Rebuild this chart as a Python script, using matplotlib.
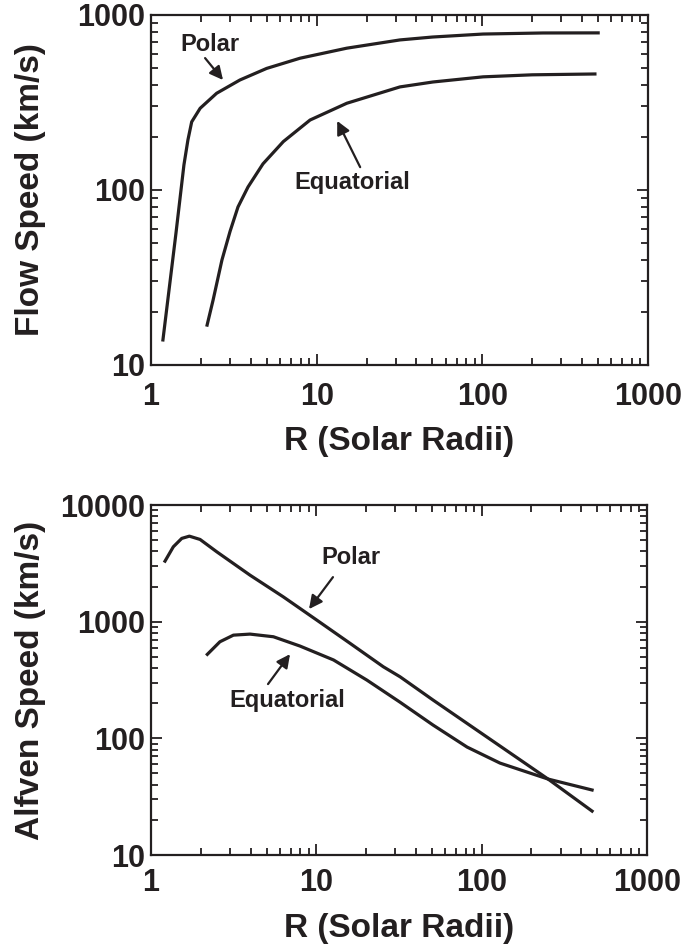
#!/usr/bin/env python3

import matplotlib
matplotlib.use('Agg')
import matplotlib.pyplot as plt
from matplotlib import ticker

# flow speed vs distance
flow_polar_r = [1.18, 1.415, 1.58, 1.67, 1.76, 1.98, 2.49, 3.44, 4.99, 7.93, 15.2, 31.8, 50, 101, 232, 500]
flow_polar_v = [13.9, 56.8, 139, 193, 245, 293, 357, 425, 495, 566, 646, 720, 748, 778, 789, 790]

flow_eq_r = [2.18, 2.37, 2.68, 3.0, 3.35, 3.85, 4.74, 6.29, 9.12, 15.2, 31.8, 50.3, 101, 200, 478]
flow_eq_v = [16.9, 23.5, 39.8, 58, 80, 104, 141, 189, 251, 313, 388, 414, 443, 455, 460]

# alfven speed vs distance
alf_polar_r = [1.215, 1.364, 1.534, 1.706, 1.98, 2.50, 3.97, 6.31, 10.05, 16.0, 25.4, 32.1, 50.8, 129, 252, 465]
alf_polar_v = [3304, 4385, 5176, 5410, 5070, 3970, 2506, 1633, 1033, 652, 411, 337, 213, 86, 44.8, 23.8]

alf_eq_r = [2.19, 2.61, 3.15, 3.97, 5.5, 7.97, 12.7, 20.2, 32.1, 50.8, 81.6, 129, 252, 465]
alf_eq_v = [525, 673, 767, 783, 743, 618, 470, 316, 204, 130, 84.2, 61.4, 44.8, 36.1]

INK = '#231f20'
FONT = 'Liberation Sans'


def style_axes(ax, ylim, ylabel, xpad, xlabelpad):
    ax.set_xscale('log')
    ax.set_yscale('log')
    ax.set_xlim(1, 1000)
    ax.set_ylim(*ylim)
    fmt = ticker.FuncFormatter(lambda v, _: f'{v:g}')
    ax.xaxis.set_major_formatter(fmt)
    ax.yaxis.set_major_formatter(fmt)
    ax.xaxis.set_minor_formatter(ticker.NullFormatter())
    ax.yaxis.set_minor_formatter(ticker.NullFormatter())
    ax.tick_params(which='both', direction='in', top=True, right=True, colors=INK, width=1.3)
    ax.tick_params(which='major', length=8, labelsize=22)
    ax.tick_params(which='minor', length=5)
    ax.tick_params(axis='y', which='major', pad=4.5)
    ax.tick_params(axis='x', which='major', pad=xpad)
    for lab in ax.get_xticklabels() + ax.get_yticklabels():
        lab.set_fontweight('bold')
        lab.set_family(FONT)
    for sp in ax.spines.values():
        sp.set_linewidth(1.6)
        sp.set_color(INK)
    ax.set_xlabel('R (Solar Radii)', fontsize=24, fontweight='bold', family=FONT, color=INK,
                  labelpad=xlabelpad)
    ax.set_ylabel(ylabel, fontsize=24, fontweight='bold', family=FONT, color=INK)
    ax.yaxis.set_label_coords(-0.211, 0.5)


def label(ax, text, text_at, tail, tip):
    ax.text(*text_at, text, fontsize=17, fontweight='bold', family=FONT, color=INK,
            ha='center', va='center')
    ax.annotate('', xy=tip, xytext=tail,
                arrowprops=dict(arrowstyle='-|>', color=INK, lw=1.6, mutation_scale=20,
                                shrinkA=0, shrinkB=0))


def main():
    fig = plt.figure(figsize=(6.88, 9.47), dpi=100)

    ax1 = fig.add_axes([0.2195, 0.6146, 0.7224, 0.3696])
    ax1.plot(flow_polar_r, flow_polar_v, color=INK, lw=2.3, solid_joinstyle='round')
    ax1.plot(flow_eq_r, flow_eq_v, color=INK, lw=2.3, solid_joinstyle='round')
    style_axes(ax1, (10, 1000), 'Flow Speed (km/s)', 12.5, 10)
    label(ax1, 'Polar', (2.27, 674), (2.12, 567), (2.72, 425))
    label(ax1, 'Equatorial', (16.3, 111), (18.3, 135), (13.3, 248))

    ax2 = fig.add_axes([0.2195, 0.0971, 0.7210, 0.3696])
    ax2.plot(alf_polar_r, alf_polar_v, color=INK, lw=2.3, solid_joinstyle='round')
    ax2.plot(alf_eq_r, alf_eq_v, color=INK, lw=2.3, solid_joinstyle='round')
    style_axes(ax2, (10, 10000), 'Alfven Speed (km/s)', 9, 11)
    label(ax2, 'Polar', (16.2, 3580), (12.6, 2410), (9.03, 1283))
    label(ax2, 'Equatorial', (6.65, 213), (5.1, 292), (6.93, 527))

    fig.savefig('out.png', dpi=100)


if __name__ == "__main__":
    main()
